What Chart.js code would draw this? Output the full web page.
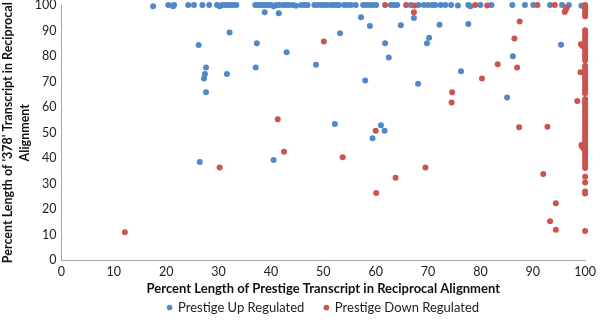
<!DOCTYPE html>
<html><head><meta charset="utf-8">
<script src="https://cdn.jsdelivr.net/npm/chart.js@4"></script>
<style>html,body{margin:0;padding:0;background:#fff;}#c{display:block;}</style>
</head><body>
<canvas id="c" width="600" height="329"></canvas>
<script>
const seriesNames = ['Prestige Up Regulated', 'Prestige Down Regulated'];
const xTitle = 'Percent Length of Prestige Transcript in Reciprocal Alignment';
const yTitle = ["Percent Length of '378' Transcript in Reciprocal", 'Alignment'];
const tickValues = [0,10,20,30,40,50,60,70,80,90,100];

const upRegulated = [
 [17.5,99.5],[20.4,100],[21.3,99.5],[21.5,100],[24.2,100],[25.3,100],[26.9,100],[28.2,100],[29.7,100],[30.2,99.5],
 [30.7,100],[31.2,100],[31.7,100],[32.2,100],[32.8,100],[33.4,100],[37,100],[37.5,100],[38,100],[38.5,100],
 [39,100],[39.5,100],[40,100],[40.5,99.5],[41,100],[41.6,100],[42.3,100],[42.9,100],[43.5,100],[44.2,100],
 [44.8,99.7],[45.8,100],[46.4,100],[47,100],[48.3,100],[48.9,100],[49.6,100],[50.2,100],[50.8,100],[51.5,100],
 [52.1,100],[52.7,100],[53,100],[54,100],[54.6,100],[55.3,100],[56.2,100],[57.6,100],[58.2,100],[58.9,100],
 [59.5,100],[60.1,100],[62.9,100],[63.5,100],[64.1,100],[66.7,100],[68.2,100],[69.2,100],[70,100],[70.8,100],
 [71.4,100],[72.4,100],[73.3,100],[74.4,100],[75.7,99.8],[77.7,100],[78.1,99.5],[80,100],[82.1,100],[86.1,100],
 [88.5,100],[90.1,100],[93.3,100],[95.6,100],[96.9,100],[99.3,99.7],
 [38.8,97.2],[41.5,96.8],[57.2,95.2],[67.3,94.9],[58.9,91.8],[64.8,92.1],[72.2,92.3],[77.7,92.6],[32.1,89.2],[53.2,88.9],
 [70.2,87.2],[26.2,84.3],[37.3,85],[61.8,85],[69.8,85],[95.4,84.4],[43,81.5],[62.5,79.4],[86.2,79.9],[48.6,76.6],
 [27.6,75.5],[37.1,75.5],[76.3,74.1],[27.4,73],[31.6,73],[27.2,71.2],[58,70.4],[68.1,69.2],[27.6,65.8],[85.1,63.8],
 [52.2,53.4],[61,52.9],[61.7,50.8],[59.4,47.8],[26.4,38.5],[40.5,39.3]
];

const downRegulated = [
 [61.8,100],[65.8,100],[67.4,99.8],[67.3,97.2],[79,100],[81.3,99.8],[90.9,100],[94.2,100],[96.5,99],[96.3,98],
 [96.1,97.3],[87.5,93.5],[86.5,86.9],[87,75.5],[83.3,76.8],[80.3,71.2],[50.1,85.7],[74.6,65.8],[74.5,61.8],[98.5,62.4],
 [99.1,73.7],[99.5,83.9],[99.2,84.6],[41.3,55.3],[60,50.8],[87.4,52.1],[92.8,52.3],[42.5,42.5],[53.7,40.4],[30.2,36.4],
 [69.5,36.4],[63.8,32.4],[60.1,26.4],[92,33.8],[94.4,22.4],[93.3,15.3],[94.4,12],[12.1,11],[99.3,45.2],[99.6,44.3],
 [99.8,43.6],[99.4,44.6],
 [100,100],[100,99.2],[100,98.3],[100,97.4],[100,96.5],[100,95.6],[100,90.1],[100,89.3],[100,88.4],[100,87.5],
 [100,86.3],[100,85.2],[100,84.1],[100,83],[100,82.2],[100,81.1],[100,80.2],[100,79.3],[100,78.4],[100,76.2],
 [100,75.3],[100,74.4],[100,73.2],[100,72.3],[100,71.1],[100,70.2],[100,69.3],[100,68.1],[100,67.2],[100,66.3],
 [100,65.4],[100,63.2],[100,62.3],[100,61.4],[100,60.5],[100,59.3],[100,58.2],[100,57.4],[100,56.3],[100,55.2],
 [100,54.1],[100,53.3],[100,52.2],[100,51.4],[100,50.6],[100,49.5],[100,48.4],[100,47.3],[100,46.5],[100,45.4],
 [100,44.2],[100,43.1],[100,42.3],[100,41.2],[100,40.4],[100,39.3],[100,38.2],[100,37.1],[100,36.2],[100,32.8],
 [100,30.5],[100,27],[100,26.2],[100,11.5]
];

const toXY = arr => arr.map(p => ({x: p[0], y: p[1]}));
const FONT = 'Lato, "Noto Sans", sans-serif';
const BLUE = '#5088C8', RED = '#CB5350';

new Chart(document.getElementById('c'), {
  type: 'scatter',
  data: { datasets: [
    { label: seriesNames[0], data: toXY(upRegulated), backgroundColor: BLUE, borderColor: BLUE, borderWidth: 0, pointRadius: 3, order: 1, clip: false },
    { label: seriesNames[1], data: toXY(downRegulated), backgroundColor: RED, borderColor: RED, borderWidth: 0, pointRadius: 3, order: 0, clip: false }
  ]},
  options: {
    responsive: false, animation: false, devicePixelRatio: 1,
    layout: { padding: { left: 0, right: 6, top: 5, bottom: 5 } },
    plugins: {
      tooltip: { enabled: false },
      legend: { position: 'bottom', fullSize: false,
        labels: { usePointStyle: true, pointStyle: 'circle', boxWidth: 4, boxHeight: 4, padding: 20,
          color: '#222', font: { family: FONT, size: 13 },
          sort: (a, b) => a.datasetIndex - b.datasetIndex } }
    },
    scales: {
      x: { type: 'linear', min: 0, max: 100,
        afterBuildTicks: ax => { ax.ticks = tickValues.map(v => ({value: v})); },
        grid: { display: false, drawTicks: false, tickLength: 0 },
        border: { color: '#A6A6A6', width: 1 },
        ticks: { padding: 4, color: '#222', font: { family: FONT, size: 12.5 } },
        title: { display: true, text: xTitle, color: '#111', font: { family: FONT, size: 13, weight: 'bold' }, padding: { top: -2, bottom: -16 } } },
      y: { type: 'linear', min: 0, max: 100,
        afterBuildTicks: ax => { ax.ticks = tickValues.map(v => ({value: v})); },
        afterFit: s => { s.paddingTop = 0; },
        grid: { display: false, drawTicks: false, tickLength: 0 },
        border: { color: '#A6A6A6', width: 1 },
        ticks: { padding: 5, color: '#222', font: { family: FONT, size: 12.5 } },
        title: { display: true, text: yTitle, color: '#111', font: { family: FONT, size: 12.5, weight: 'bold', lineHeight: 1.35 }, padding: { top: 0, bottom: -4 } } }
    }
  }
});
</script>
</body></html>
